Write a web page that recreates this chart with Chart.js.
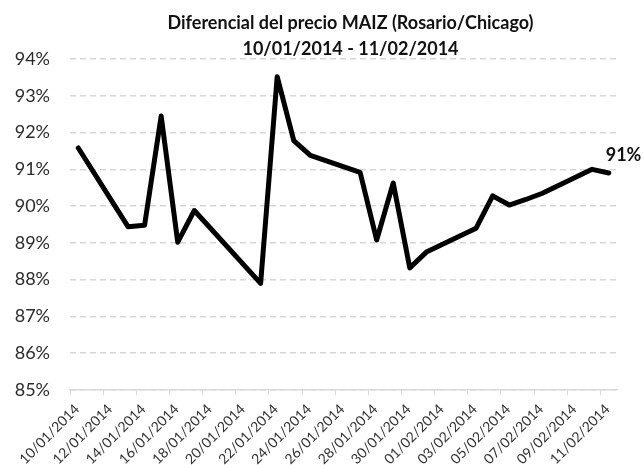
<!DOCTYPE html>
<html>
<head>
<meta charset="utf-8">
<script src="https://cdn.jsdelivr.net/npm/chart.js@4/dist/chart.umd.min.js"></script>
<style>
  html, body { margin: 0; padding: 0; background: #fff; }
  #wrap { width: 643px; height: 465px; }
</style>
</head>
<body>
<div id="wrap"><canvas id="chart" width="643" height="465"></canvas></div>
<script>
// Diferencial del precio MAIZ (Rosario/Chicago)
const titleLines = ['Diferencial del precio MAIZ (Rosario/Chicago)', '10/01/2014 - 11/02/2014'];

const dates = [
    '10/01/2014', '13/01/2014', '14/01/2014', '15/01/2014', '16/01/2014', '17/01/2014',
    '21/01/2014', '22/01/2014', '23/01/2014', '24/01/2014', '27/01/2014', '28/01/2014',
    '29/01/2014', '30/01/2014', '31/01/2014', '03/02/2014', '04/02/2014', '05/02/2014',
    '06/02/2014', '07/02/2014', '10/02/2014', '11/02/2014'
];
const values = [
    91.58, 89.44, 89.48, 92.45, 89.02, 89.88,
    87.9, 93.52, 91.78, 91.38, 90.92, 89.08,
    90.63, 88.32, 88.75, 89.4, 90.28, 90.03,
    90.18, 90.35, 91.0, 90.9
];
const tickLabels = [
    '10/01/2014', '12/01/2014', '14/01/2014', '16/01/2014', '18/01/2014', '20/01/2014',
    '22/01/2014', '24/01/2014', '26/01/2014', '28/01/2014', '30/01/2014', '01/02/2014',
    '03/02/2014', '05/02/2014', '07/02/2014', '09/02/2014', '11/02/2014'
];
const lastLabel = '91%';
const yMin = 85;
const yMax = 94;

// dd/mm/yyyy -> dias desde el primer dia del eje
function dayOf(str) {
    const [d, m, y] = str.split('/').map(Number);
    return Math.round((Date.UTC(y, m - 1, d) - Date.UTC(2014, 0, 10)) / 86400000);
}

const points = dates.map((d, i) => ({ x: dayOf(d), y: values[i] }));
const lastDay = dayOf(tickLabels[tickLabels.length - 1]);

const FONT = 'Lato, "Open Sans", sans-serif';

const overlayPlugin = {
    id: 'overlay',
    afterDraw(chart) {
        const ctx = chart.ctx;
        const area = chart.chartArea;
        ctx.save();
        // titulo
        ctx.fillStyle = '#111';
        ctx.font = 'bold 18px ' + FONT;
        ctx.textAlign = 'center';
        ctx.textBaseline = 'alphabetic';
        const cx = (area.left + area.right) / 2 + 7;
        ctx.fillText(titleLines[0], cx, 29);
        ctx.fillText(titleLines[1], cx, 55);
        // etiqueta del ultimo punto
        const meta = chart.getDatasetMeta(0);
        const last = meta.data[meta.data.length - 1];
        ctx.textAlign = 'left';
        ctx.fillText(lastLabel, last.x - 3, last.y - 12);
        ctx.restore();
    }
};

new Chart(document.getElementById('chart'), {
    type: 'line',
    data: {
        datasets: [{
            data: points,
            borderColor: '#000',
            borderWidth: 5,
            borderJoinStyle: 'round',
            borderCapStyle: 'round',
            pointRadius: 0,
            tension: 0,
            fill: false
        }]
    },
    options: {
        responsive: false,
        animation: false,
        layout: { padding: { top: 59, right: 26, left: 0, bottom: 0 } },
        plugins: {
            legend: { display: false },
            tooltip: { enabled: false },
            title: { display: false }
        },
        scales: {
            x: {
                type: 'linear',
                min: -0.5,
                max: lastDay + 0.5,
                afterBuildTicks(scale) {
                    scale.ticks = tickLabels.map(l => ({ value: dayOf(l) - 0.5 }));
                },
                afterFit(scale) { scale.height = 75; },
                grid: {
                    drawOnChartArea: false,
                    drawTicks: true,
                    tickLength: 5,
                    color: '#d9d9d9'
                },
                border: { display: true, color: '#d9d9d9', width: 1.5 },
                ticks: {
                    autoSkip: false,
                    maxRotation: 45,
                    minRotation: 45,
                    padding: 6,
                    labelOffset: 7,
                    color: '#333',
                    font: { family: FONT, size: 14 },
                    callback: (value, index) => tickLabels[index]
                }
            },
            y: {
                min: yMin,
                max: yMax,
                afterFit(scale) { scale.width = 70; },
                grid: {
                    color: '#d6d6d6',
                    lineWidth: 1.6,
                    drawTicks: false
                },
                border: { display: false, dash: [6, 4] },
                ticks: {
                    stepSize: 1,
                    padding: 20,
                    color: '#2b2b2b',
                    font: { family: FONT, size: 18 },
                    callback: v => v + '%'
                }
            }
        }
    },
    plugins: [overlayPlugin]
});
</script>
</body>
</html>
